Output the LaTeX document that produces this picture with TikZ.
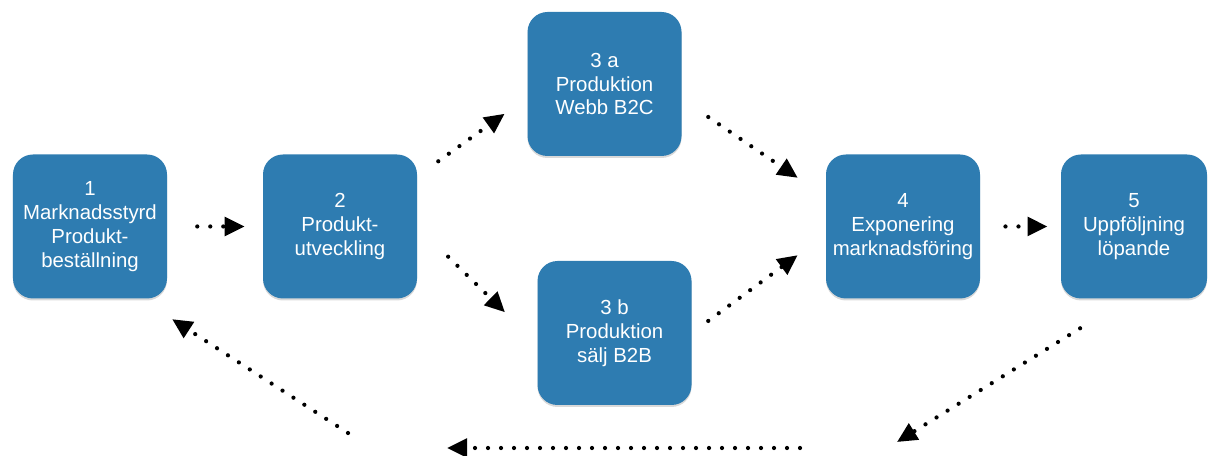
\documentclass[tikz,border=0pt]{standalone}
\usepackage{fontspec}
\setmainfont{Liberation Sans}
\usepackage{tikz}
\usetikzlibrary{arrows.meta,shadows}
\definecolor{StageBlue}{RGB}{46,124,177}
\tikzset{
  stage/.style={rectangle,rounded corners=0.5cm,fill=StageBlue,text=white,
    minimum width=3.85cm,minimum height=3.6cm,inner sep=0.1cm,align=center,
    font=\fontsize{14.5}{17}\selectfont,
    drop shadow={opacity=0.3,shadow xshift=0pt,shadow yshift=-0.05cm}},
  flow/.style={draw=black,line width=3pt,line cap=round,
    dash pattern=on 0pt off 0.325cm,-{Triangle[length=0.5cm,width=0.46cm]}},
}

\begin{document}
\begin{tikzpicture}
\useasboundingbox (0,0) rectangle (30.300,11.400);
\node[stage] (n1) at (2.250,5.738) {1\\Marknadsstyrd\\Produkt-\\beställning};
\node[stage] (n2) at (8.500,5.738) {2\\Produkt-\\utveckling};
\node[stage] (n3a) at (15.113,9.300) {3 a\\Produktion\\Webb B2C};
\node[stage] (n3b) at (15.363,3.075) {3 b\\Produktion\\sälj B2B};
\node[stage] (n4) at (22.575,5.738) {4\\Exponering\\marknadsföring};
\node[stage,minimum width=3.65cm] (n5) at (28.350,5.738) {5\\Uppföljning\\löpande};
\coordinate (c5b) at (22.425,0.350);
\coordinate (cb1) at (20.000,0.200);
\coordinate (cb2) at (11.175,0.200);
\coordinate (cl) at (8.700,0.575);
\draw[flow,shorten <=0.75cm,shorten >=0.45cm] (n1.east)--(n2.west);
\draw[flow,shorten <=0.645cm,shorten >=0.695cm] (n2.33)--(n3a.190);
\draw[flow,shorten <=1.08cm,shorten >=1.13cm] (n2.east)--(n3b.188);
\draw[flow,shorten <=0.8cm,shorten >=0.845cm] (n3a.349)--(n4.159);
\draw[flow,shorten <=0.51cm,shorten >=0.87cm] (n3b.east)--(n4.186);
\draw[flow,shorten <=0.63cm,shorten >=0.33cm] (n4.east)--(n5.west);
\draw[flow,shorten <=1.4cm] (n5.265)--(c5b);
\draw[flow] (cb1)--(cb2);
\draw[flow,shorten >=0.94cm] (cl)--(n1.305);
\end{tikzpicture}
\end{document}
